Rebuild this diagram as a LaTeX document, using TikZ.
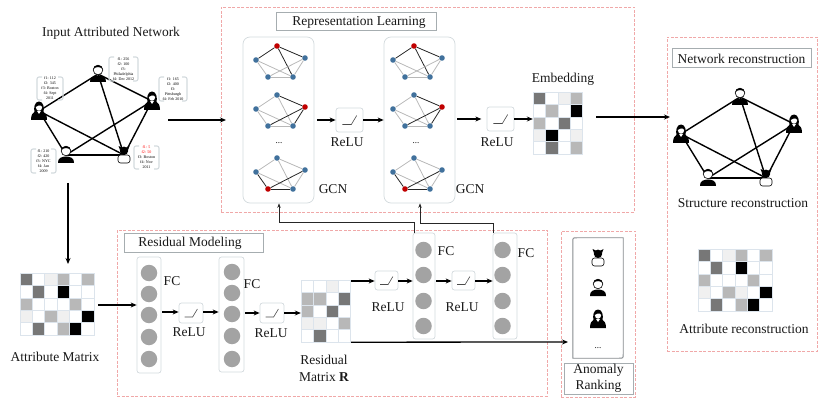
\documentclass[tikz,border=0pt]{standalone}
\usepackage{fontspec}
\setmainfont{Liberation Serif}
\usetikzlibrary{arrows.meta}
\definecolor{mA}{HTML}{777777}
\definecolor{mB}{HTML}{B8B8B8}
\definecolor{mC}{HTML}{F0F0F0}
\definecolor{mW}{HTML}{FFFFFF}
\definecolor{mK}{HTML}{000000}
\definecolor{gridc}{HTML}{DCE4EC}
\definecolor{pinkd}{HTML}{F0A8A8}
\definecolor{boxg}{HTML}{D3DADD}
\definecolor{titleg}{HTML}{A6ADB0}
\definecolor{blued}{HTML}{41719C}
\definecolor{redd}{HTML}{C00000}
\definecolor{fcg}{HTML}{A3A3A3}
\newcommand{\matgrid}[6]{% name, cx, cy, cell w, cell h, rows
  \foreach \rowlist [count=\j] in {#6} {
    \foreach \cellc [count=\i] in \rowlist {
      \fill[\cellc] (#2+\i*#4-#4,#3+\j*#5-#5) rectangle ++(#4,#5);
      \draw[gridc,line width=0.5pt] (#2+\i*#4-#4,#3+\j*#5-#5) rectangle ++(#4,#5);
    }
  }
}
\newcommand{\maleicon}[1]{%
  \begin{scope}[shift={(#1)}]
    \fill[black] (-8,8) .. controls (-8.5,3) and (-4,1.5) .. (0,1.5) .. controls (4,1.5) and (8.5,3) .. (8,8) -- cycle;
    \draw[black,fill=white,line width=0.6pt] (0,-4) circle (4.8);
    \fill[black] (-4.8,-4.8) .. controls (-4,-10.2) and (4,-10.2) .. (4.8,-4.8) .. controls (2.5,-7.6) and (-2.5,-7.6) .. cycle;
  \end{scope}}
\newcommand{\femaleicon}[1]{%
  \begin{scope}[shift={(#1)}]
    \fill[black] (-8,9) .. controls (-8,3) and (-6,2) .. (-4.5,1) .. controls (-5.5,-3) and (-4.5,-9.5) .. (0,-9.5) .. controls (4.5,-9.5) and (5.5,-3) .. (4.5,1) .. controls (6,2) and (8,3) .. (8,9) -- cycle;
    \fill[white] (-3.2,-4) .. controls (-1,-5) and (1,-7) .. (3.2,-4) .. controls (3.2,1) and (-3.2,1) .. cycle;
    \fill[white] (0,3) -- (-2,0) -- (2,0) -- cycle;
  \end{scope}}
\newcommand{\devilicon}[1]{%
  \begin{scope}[shift={(#1)}]
    \draw[black,fill=white,line width=0.6pt,rounded corners=2.5pt] (-6,0) rectangle (6,8);
    \fill[black] (0,-4.2) circle (4.2);
    \fill[black] (-4,-5) -- (-5.5,-9) -- (-1.5,-7) -- cycle;
    \fill[black] (4,-5) -- (5.5,-9) -- (1.5,-7) -- cycle;
  \end{scope}}
\newcommand{\peoplenet}[6]{% prefix, five coordinates
  \node[pt] (#1a) at (#2) {};
  \node[pt] (#1b) at (#3) {};
  \node[pt] (#1c) at (#4) {};
  \node[pt] (#1d) at (#5) {};
  \node[pt] (#1e) at (#6) {};
  \foreach \u/\v in {a/b,a/c,a/e,b/e,b/d,c/d,c/e,d/e}
    \draw[netline] (#1\u) -- (#1\v);
  \maleicon{#1a}\femaleicon{#1b}\femaleicon{#1c}\maleicon{#1d}\devilicon{#1e}
}
\newcommand{\minigraph}[4]{% name, x of top, y of top, red index
  \foreach \k/\dx/\dy in {1/0/0,2/-21/14,3/28/12,4/-9/31,5/16/31} {
    \ifnum\k=#4\def\dotc{redd}\else\def\dotc{blued}\fi
    \node[dot,fill=\dotc] (#1\k) at (#2+\dx,#3+\dy) {};
  }
  \foreach \u/\v in {1/2,1/3,1/5,2/5,2/4,3/4,3/5,4/5} {
    \def\edgec{mB}
    \ifnum\u=#4\def\edgec{black!85}\fi
    \ifnum\v=#4\def\edgec{black!85}\fi
    \draw[\edgec,line width=0.8pt] (#1\u) -- (#1\v);
  }
}
\newcommand{\reluglyph}[2]{% node, half-width
  \draw[black!70,line width=0.6pt,shift={(#1.center)},scale=#2] (-0.8,0.5) -- (0.2,0.5) -- (0.8,-0.5);
}
\newcommand{\attrbox}[6]{% name,x0,y0,x1,y1,text
  \node[inner sep=0pt,font=\fontsize{4}{5}\selectfont,align=center] (#1) at ({(#2+#4)/2},{(#3+#5)/2}) {#6};
  \draw[bracketc] (#2+5,#3) -- (#2,#3) -- (#2,#5) -- (#2+5,#5);
  \draw[bracketc] (#4-5,#3) -- (#4,#3) -- (#4,#5) -- (#4-5,#5);
}
\tikzset{
  pt/.style={inner sep=0pt,minimum size=0pt},
  netline/.style={black,line width=1.4pt},
  dot/.style={circle,inner sep=0pt,minimum size=5.6pt},
  bracketc/.style={boxg,line width=1.1pt,rounded corners=2pt},
  panel/.style={draw=pinkd,line width=0.9pt,dash pattern=on 3pt off 1.5pt},
  titlebox/.style={draw=titleg,line width=1pt,fill=white,inner sep=0pt},
  roundbox/.style={draw=boxg,line width=0.7pt,rounded corners=7pt,inner sep=0pt},
  fcbox/.style={draw=boxg,line width=0.7pt,rounded corners=2.5pt,inner sep=0pt},
  relubox/.style={draw=boxg,line width=0.7pt,rounded corners=2.5pt,inner sep=0pt},
  fcdot/.style={circle,fill=fcg,inner sep=0pt,minimum size=16.5pt},
  bigarr/.style={-{Stealth[length=6pt,width=5pt]},black,line width=1.3pt},
  thinarr/.style={-{Stealth[length=4.5pt,width=3.5pt]},black!85,line width=0.7pt},
  lab/.style={inner sep=0pt,font=\fontsize{13.5}{15}\selectfont,text=black!90},
  matn/.style={inner sep=0pt},
}
\begin{document}
\begin{tikzpicture}[x=1pt,y=-1pt]
\useasboundingbox (0,0) rectangle (830,406);
% panels
\node[panel,minimum width=413pt,minimum height=205pt,inner sep=0pt] (prep) at (427.5,109.5) {};
\node[panel,minimum width=150pt,minimum height=314pt,inner sep=0pt] (pnet) at (742,194) {};
\node[panel,minimum width=430pt,minimum height=166pt,inner sep=0pt] (pres) at (332,313) {};
\node[panel,minimum width=74pt,minimum height=166pt,inner sep=0pt] (pano) at (598,314) {};
% titles
\node[lab] (tinput) at (111,33) {Input Attributed Network};
\node[titlebox,lab,minimum width=160pt,minimum height=18pt] (trep) at (356.5,22) {\hspace*{5pt}Representation Learning};
\node[titlebox,lab,minimum width=139pt,minimum height=19pt] (tnet) at (741.5,58.5) {Network reconstruction};
\node[titlebox,lab,minimum width=139pt,minimum height=19pt] (tres) at (193.5,243.5) {Residual Modeling\hspace*{7pt}};
\node[titlebox,lab,minimum width=69pt,minimum height=31pt,align=center,font=\fontsize{13.5}{16}\selectfont] (tano) at (598.5,378.5) {Anomaly\\Ranking};
% input network
\peoplenet{n}{98,74}{39,111}{152,101}{66,155}{124,155}
\attrbox{ba}{37}{77}{63}{100}{f1: 112\\f2: 345\\f3: Boston\\f4: Sept\\2011}
\attrbox{bb}{109}{57}{138}{81}{f1: 256\\f2: 100\\f3:\\Philadelphia\\f4: Dec 2012}
\attrbox{bc}{159}{77}{187}{101}{f1: 165\\f2: 400\\f3:\\Pittsburgh\\f4: Feb 2010}
\attrbox{bd}{31}{149}{56}{173}{f1: 210\\f2: 420\\f3: NYC\\f4: Jan\\2009}
\attrbox{be}{134}{146}{159}{169}{\textcolor{red}{f1: 5}\\\textcolor{red}{f2: 50}\\f3: Boston\\f4: Nov\\2011}
% GCN columns
\node[roundbox,minimum width=71pt,minimum height=166pt] (gcnA) at (278.5,120) {};
\node[roundbox,minimum width=71pt,minimum height=166pt] (gcnB) at (419.5,120) {};
\minigraph{ga}{277}{46}{1}
\minigraph{gb}{277}{95}{3}
\minigraph{gc}{277}{158}{4}
\minigraph{gd}{414}{46}{1}
\minigraph{ge}{414}{95}{3}
\minigraph{gf}{414}{158}{4}
\node[inner sep=0pt,font=\fontsize{9}{9}\selectfont] (dotsA) at (279,143) {...};
\node[inner sep=0pt,font=\fontsize{9}{9}\selectfont] (dotsB) at (416,143) {...};
\node[lab] (lgcnA) at (333,189) {GCN};
\node[lab] (lgcnB) at (470,189) {GCN};
% ReLU top
\node[relubox,minimum width=27pt,minimum height=24pt] (rA) at (349.5,120) {};
\reluglyph{rA}{9}
\node[lab] (lrA) at (347,142) {ReLU};
\node[relubox,minimum width=27pt,minimum height=24pt] (rB) at (500.5,119) {};
\reluglyph{rB}{9}
\node[lab] (lrB) at (497,142) {ReLU};
% embedding
\node[lab] (lemb) at (563,79) {Embedding};
\node[matn,minimum width=50pt,minimum height=62pt] (emb) at (558,123) {};
\matgrid{emb}{533}{92}{12.4}{12.4}{{mA,mW,mC,mB},{mW,mB,mW,mK},{mB,mW,mA,mW},{mC,mK,mW,mC},{mW,mA,mW,mB}}
% arrows top
\coordinate (inS) at (168,120);
\coordinate (inE) at (226,120);
\draw[bigarr] (inS) -- (inE);
\draw[bigarr] (gcnA.east |- rA) ++(3,0) -- (rA.west);
\draw[bigarr] (rA.east) -- (gcnB.west |- rA);
\draw[bigarr] (gcnB.east |- rB) ++(2,0) -- ++(24,0);
\draw[bigarr] (rB.east) -- (emb.west |- rB);
\coordinate (embS) at (596,117);
\coordinate (netE) at (670,117);
\draw[bigarr] (embS) -- (netE);
% reconstruction
\peoplenet{m}{740,97}{681,134}{794,124}{708,178}{766,178}
\node[lab] (lstruct) at (743,203) {Structure reconstruction};
\node[matn,minimum width=74pt,minimum height=62pt] (mrec) at (735,280) {};
\matgrid{mrec}{698}{249}{12.33}{12.4}{{mA,mW,mC,mB,mW,mB},{mW,mA,mW,mK,mW,mW},{mB,mW,mW,mW,mB,mW},{mC,mW,mB,mC,mW,mK},{mW,mA,mW,mB,mK,mW}}
\node[lab] (lrec) at (744,329) {Attribute reconstruction};
% attribute matrix
\node[matn,minimum width=74pt,minimum height=62pt] (attr) at (57,304) {};
\matgrid{attr}{20}{273}{12.33}{12.4}{{mA,mW,mC,mB,mW,mB},{mW,mA,mW,mK,mW,mW},{mB,mW,mW,mW,mB,mW},{mC,mW,mB,mC,mW,mK},{mW,mA,mW,mB,mK,mW}}
\node[lab] (lattr) at (55,357) {Attribute Matrix};
\coordinate (dS) at (68,183);
\coordinate (dE) at (68,264);
\draw[bigarr] (dS) -- (dE);
% FC columns
\node[fcbox,minimum width=24pt,minimum height=116pt] (fA) at (149,315) {};
\foreach \k/\yy in {1/273,2/294,3/315,4/337,5/359} \node[fcdot] (fA\k) at (149,\yy) {};
\node[fcbox,minimum width=25pt,minimum height=115pt] (fB) at (231.5,314.5) {};
\foreach \k/\yy in {1/272,2/293,3/314,4/336,5/359} \node[fcdot] (fB\k) at (232,\yy) {};
\node[fcbox,minimum width=22pt,minimum height=106pt] (fC) at (424,286) {};
\foreach \k/\yy in {1/250,2/275,3/301,4/326} \node[fcdot] (fC\k) at (423.5,\yy) {};
\node[fcbox,minimum width=24pt,minimum height=106pt] (fD) at (505,286) {};
\foreach \k/\yy in {1/250,2/275,3/301,4/326} \node[fcdot] (fD\k) at (502.5,\yy) {};
\node[lab] (lfA) at (172,281) {FC};
\node[lab] (lfB) at (252,284) {FC};
\node[lab] (lfC) at (446,251) {FC};
\node[lab] (lfD) at (526,253) {FC};
% ReLU bottom
\node[relubox,minimum width=24pt,minimum height=20pt] (rC) at (191,313) {};
\reluglyph{rC}{8}
\node[lab] (lrC) at (189,332) {ReLU};
\node[relubox,minimum width=24pt,minimum height=20pt] (rD) at (272,313) {};
\reluglyph{rD}{8}
\node[lab] (lrD) at (271,333) {ReLU};
\node[relubox,minimum width=23pt,minimum height=19pt] (rE) at (386.5,280.5) {};
\reluglyph{rE}{8}
\node[lab] (lrE) at (388,307) {ReLU};
\node[relubox,minimum width=23pt,minimum height=19pt] (rF) at (463.5,280.5) {};
\reluglyph{rF}{8}
\node[lab] (lrF) at (462,307) {ReLU};
% residual matrix
\node[matn,minimum width=50pt,minimum height=62pt] (res) at (326,311) {};
\matgrid{res}{301}{280}{12.4}{12.4}{{mW,mW,mC,mW},{mB,mB,mW,mA},{mB,mW,mA,mW},{mC,mC,mW,mB},{mW,mA,mW,mW}}
\node[lab,align=center,font=\fontsize{13.5}{17}\selectfont] (lres) at (324,368.5) {Residual\\Matrix \textbf{R}};
% arrows bottom
\draw[bigarr] (98,305) -- (fA.west |- 0,305);
\draw[bigarr] (162,312) -- (rC.west |- 0,312);
\draw[bigarr] (rC.east |- 0,312) -- (fB.west |- 0,312);
\draw[bigarr] (245,313) -- (rD.west);
\draw[bigarr] (rD.east) -- (res.west |- rD);
\draw[bigarr] (res.east |- 0,281) -- (rE.west |- 0,281);
\draw[bigarr] (rE.east |- 0,281) -- (fC.west |- 0,281);
\draw[bigarr] (436,281) -- (rF.west |- 0,281);
\draw[bigarr] (rF.east |- 0,281) -- (fD.west |- 0,281);
\coordinate (longE) at (568,342);
\draw[bigarr] (res.south east) -- (longE);
% feedback
\draw[thinarr] ([xshift=2pt]fC.north west) -- ++(0,-10) -| (gcnA.south -| 279,0);
\draw[thinarr] ([xshift=1pt]fD.north west) -- ++(0,-9) -| (gcnB.south -| 420,0);
% anomaly ranking
\node[inner sep=0pt,minimum width=50pt,minimum height=120pt] (rank) at (598,298) {};
\draw[titleg!80!black,line width=0.9pt] (rank.north east) -- ([yshift=4pt]rank.south east) .. controls (rank.south east) .. ([xshift=-4pt]rank.south east) -- (rank.south west) -- ([yshift=-4pt]rank.north west) .. controls (rank.north west) .. ([xshift=4pt]rank.north west) -- cycle;
\devilicon{598,258}
\maleicon{598,288}
\femaleicon{598,319}
\node[inner sep=0pt,font=\fontsize{9}{9}\selectfont] (dotsC) at (598,348) {...};
\end{tikzpicture}
\end{document}
